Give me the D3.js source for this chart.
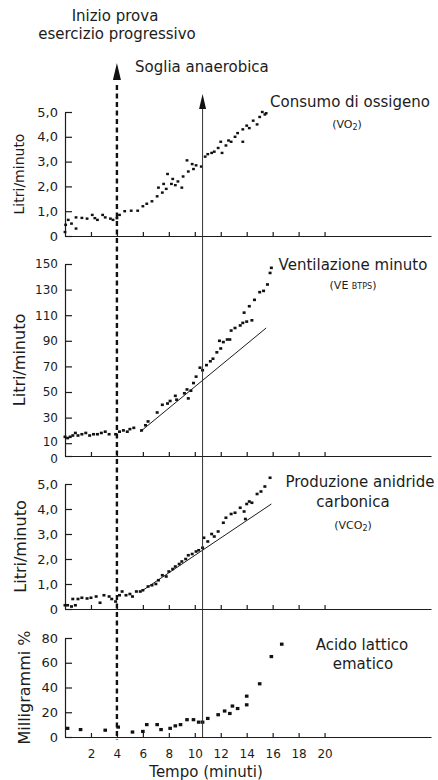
<!DOCTYPE html>
<html><head><meta charset="utf-8">
<script src="https://cdn.jsdelivr.net/npm/d3@7"></script>
<style>html,body{margin:0;padding:0;background:#fff;} svg{display:block;font-family:"DejaVu Sans",sans-serif;}</style>
</head><body><svg id="c" width="438" height="780"></svg>
<script>
const timeTicks=[2,4,6,8,10,12,14,16,18,20];
const vo2Ticks=[0,1,2,3,4,5];
const veTicks=[0,10,30,50,70,90,110,130,150];
const vco2Ticks=[0,1,2,3,4,5];
const lacticTicks=[0,20,40,60,80];
const exerciseStart=4, anaerobicThreshold=10.6;

const vo2Data=[[0,0.16],[0.05,0.45],[0.25,0.65],[0.5,0.5],[0.85,0.3],[0.85,0.75],[1.3,0.73],[1.7,0.7],[2.1,0.85],[2.3,0.72],[2.5,0.65],[2.9,0.85],[3.1,0.75],[3.5,0.7],[3.7,0.65],[4.0,0.72],[4.2,0.85],[4.6,1.0],[5.1,1.02],[5.6,1.02],[6.0,1.2],[6.3,1.3],[6.7,1.4],[7.1,1.6],[7.2,1.95],[7.5,1.75],[7.6,2.1],[7.9,2.5],[7.8,1.9],[8.2,2.1],[8.3,2.3],[8.5,2.05],[8.7,2.2],[9.0,1.95],[9.1,2.4],[9.4,3.05],[9.5,2.6],[9.8,2.9],[9.9,2.7],[10.1,2.85],[10.5,2.8],[10.8,3.2],[11.0,3.3],[11.3,3.35],[11.5,3.4],[11.8,3.55],[12.1,3.35],[12.0,3.8],[12.4,3.65],[12.6,3.85],[12.8,3.8],[13.1,4.0],[13.3,4.15],[13.7,3.8],[13.7,4.3],[14.0,4.45],[14.2,4.35],[14.5,4.65],[14.8,4.5],[15.0,4.8],[15.2,5.0],[15.4,4.9],[15.5,4.95]];
const veData=[[0,15],[0.2,14],[0.4,15],[0.6,16],[0.8,18],[1.0,16],[1.3,17],[1.6,18],[1.9,16],[2.2,17],[2.5,17],[2.8,18],[3.1,19],[3.4,17],[3.9,17],[4.2,19],[4.5,20],[4.8,19],[5.0,21],[5.3,22],[5.9,20],[6.2,24],[6.4,27],[7.1,34],[7.5,40],[7.9,41],[8.1,43],[8.5,47],[8.6,44],[9.2,49],[9.4,52],[9.5,45],[9.7,51],[9.9,57],[10.1,62],[10.4,69],[10.6,67],[10.9,71],[11.2,74],[11.4,76],[11.7,81],[11.9,90],[12.0,84],[12.2,89],[12.5,91],[12.7,91],[12.8,98],[13.1,100],[13.5,102],[13.7,104],[14.0,105],[14.4,106],[13.8,112],[14.2,117],[14.6,122],[15.0,128],[15.3,129],[15.6,134],[15.8,143],[15.9,147]];
const veLine=[[5.8,19],[15.5,100]];
const vco2Data=[[0,0.15],[0.2,0.15],[0.5,0.1],[0.8,0.15],[0.6,0.4],[1.0,0.4],[1.3,0.45],[1.7,0.42],[2.0,0.45],[2.4,0.5],[2.7,0.25],[3.0,0.55],[3.4,0.5],[3.6,0.4],[3.9,0.3],[4.2,0.55],[4.4,0.7],[4.7,0.55],[5.0,0.6],[5.2,0.5],[5.5,0.7],[5.8,0.7],[6.0,0.75],[6.4,0.9],[6.7,0.95],[7.0,1.0],[7.2,1.15],[7.5,1.35],[7.8,1.3],[8.0,1.5],[8.3,1.6],[8.5,1.7],[8.8,1.8],[9.0,1.9],[9.3,2.0],[9.5,2.15],[9.8,2.2],[10.1,2.3],[10.3,2.35],[10.6,2.45],[10.7,2.85],[11.0,2.7],[11.3,3.0],[11.5,2.9],[11.8,3.1],[12.2,3.45],[12.4,3.65],[12.8,3.8],[13.1,3.85],[13.5,4.05],[13.8,3.9],[13.9,3.6],[14.0,4.2],[14.2,4.3],[14.4,4.25],[14.8,4.6],[15.1,4.7],[15.4,4.9],[15.8,5.25]];
const vco2Line=[[6,0.75],[15.9,4.2]];
const lacticData=[[0.2,7],[1.2,6],[3.1,5.5],[4.1,8],[5.2,4],[6.0,4.5],[6.3,10],[7.1,10],[7.4,6],[8.1,7],[8.5,9],[8.9,10],[9.4,14],[9.9,14],[10.3,12],[10.6,12],[11.0,15],[11.8,18],[12.3,21],[12.7,19],[12.9,25],[13.3,23],[14.0,26],[14.0,33],[15.0,43],[15.9,65],[16.7,75]];

const ink="#1c1c1c";
const svg=d3.select("#c");
const x=d3.scaleLinear().domain([0,28.2]).range([65,431]);
const comma=d=>d===0?"0":d.toFixed(1).replace(".",",");

const panels=[
 {data:vo2Data,ticks:vo2Ticks,domain:[0,5],range:[236,112],fmt:comma,title:"Litri/minuto",tSize:14,tx:19,dot:[2.8,2.4],fs:13},
 {data:veData,ticks:veTicks,domain:[0,150],range:[456,264],fmt:d=>String(d),title:"Litri/minuto",tSize:16,tx:19,dot:[3,2.6],line:veLine,fs:12},
 {data:vco2Data,ticks:vco2Ticks,domain:[0,5],range:[609,484],fmt:comma,title:"Litri/minuto",tSize:16,tx:20,dot:[3,2.6],line:vco2Line,fs:13},
 {data:lacticData,ticks:lacticTicks,domain:[0,80],range:[737,638],fmt:d=>String(d),title:"Milligrammi %",tSize:16,tx:24,dot:[3.6,3.2],last:true,fs:13}
];

panels.forEach((p,i)=>{
  const y=d3.scaleLinear().domain(p.domain).range(p.range);
  const g=svg.append("g");
  const ya=g.append("g").attr("transform",`translate(${x(0)},0)`)
    .call(d3.axisLeft(y).tickValues(p.ticks).tickFormat(p.fmt).tickSizeInner(-7).tickSizeOuter(0).tickPadding(7));
  const xa=g.append("g").attr("transform",`translate(0,${y(0)})`)
    .call(d3.axisBottom(x).tickValues(timeTicks).tickSizeInner(-4).tickSizeOuter(0).tickPadding(12)
      .tickFormat(p.last?(d=>String(d)):(()=>"")));
  [ya,xa].forEach(a=>{
    a.selectAll("path,line").attr("stroke",ink).attr("stroke-width",1.2);
    a.selectAll("text").attr("fill",ink).style("font-family","DejaVu Sans").style("font-size",p.fs+"px");
  });
  xa.selectAll("text").style("font-size","12px");
  if(i===1){ ya.selectAll(".tick").filter(d=>d===0).select("text").attr("dy","0.55em"); ya.selectAll(".tick").filter(d=>d===10).select("text").attr("dy","0.2em"); }
  const mid=(p.range[0]+p.range[1])/2;
  g.append("text").attr("transform",`translate(${p.tx},${mid}) rotate(-90)`)
    .attr("text-anchor","middle").attr("dy","0.35em").attr("fill",ink)
    .style("font-size",p.tSize+"px").text(p.title);
  if(p.line){
    g.append("line").attr("x1",x(p.line[0][0])).attr("y1",y(p.line[0][1]))
      .attr("x2",x(p.line[1][0])).attr("y2",y(p.line[1][1]))
      .attr("stroke",ink).attr("stroke-width",1);
  }
  g.selectAll("rect.d").data(p.data).join("rect").attr("class","d")
    .attr("x",d=>x(d[0])-p.dot[0]/2).attr("y",d=>y(d[1])-p.dot[1]/2)
    .attr("width",p.dot[0]).attr("height",p.dot[1]).attr("fill","#111");
});

const xs=x(exerciseStart), xt=x(anaerobicThreshold);
svg.append("line").attr("x1",xs).attr("x2",xs).attr("y1",85).attr("y2",740)
  .attr("stroke","#111").attr("stroke-width",2.4).attr("stroke-dasharray","5,3.5");
svg.append("path").attr("d",`M${xs},63 L${xs-4},80 L${xs+4},80 Z`).attr("fill","#111");
svg.append("line").attr("x1",xt).attr("x2",xt).attr("y1",104).attr("y2",737)
  .attr("stroke","#333").attr("stroke-width",1);
svg.append("path").attr("d",`M${xt},94 L${xt-3.5},109 L${xt+3.5},109 Z`).attr("fill","#111");

function txt(s,xp,yp,size,anchor){
  return svg.append("text").attr("x",xp).attr("y",yp).attr("text-anchor",anchor||"middle")
    .attr("fill",ink).style("font-size",size+"px").text(s);
}
txt("Inizio prova",115,21,15);
txt("esercizio progressivo",117,39,15);
txt("Soglia anaerobica",135,72,15,"start");
txt("Consumo di ossigeno",350,107,15);
const t1=txt("(VO",347,128,11); t1.append("tspan").attr("dy",2).style("font-size","8px").text("2"); t1.append("tspan").attr("dy",-2).text(")");
txt("Ventilazione minuto",353,270,15);
const t2=txt("(VE ",353,289,11); t2.append("tspan").style("font-size","8px").text("BTPS"); t2.append("tspan").text(")");
txt("Produzione anidride",360,487,15);
txt("carbonica",353,507,15);
const t3=txt("(VCO",353,529,11); t3.append("tspan").attr("dy",2).style("font-size","8px").text("2"); t3.append("tspan").attr("dy",-2).text(")");
txt("Acido lattico",362,650,15);
txt("ematico",363,669,15);
txt("Tempo (minuti)",206,777,15);
</script></body></html>
